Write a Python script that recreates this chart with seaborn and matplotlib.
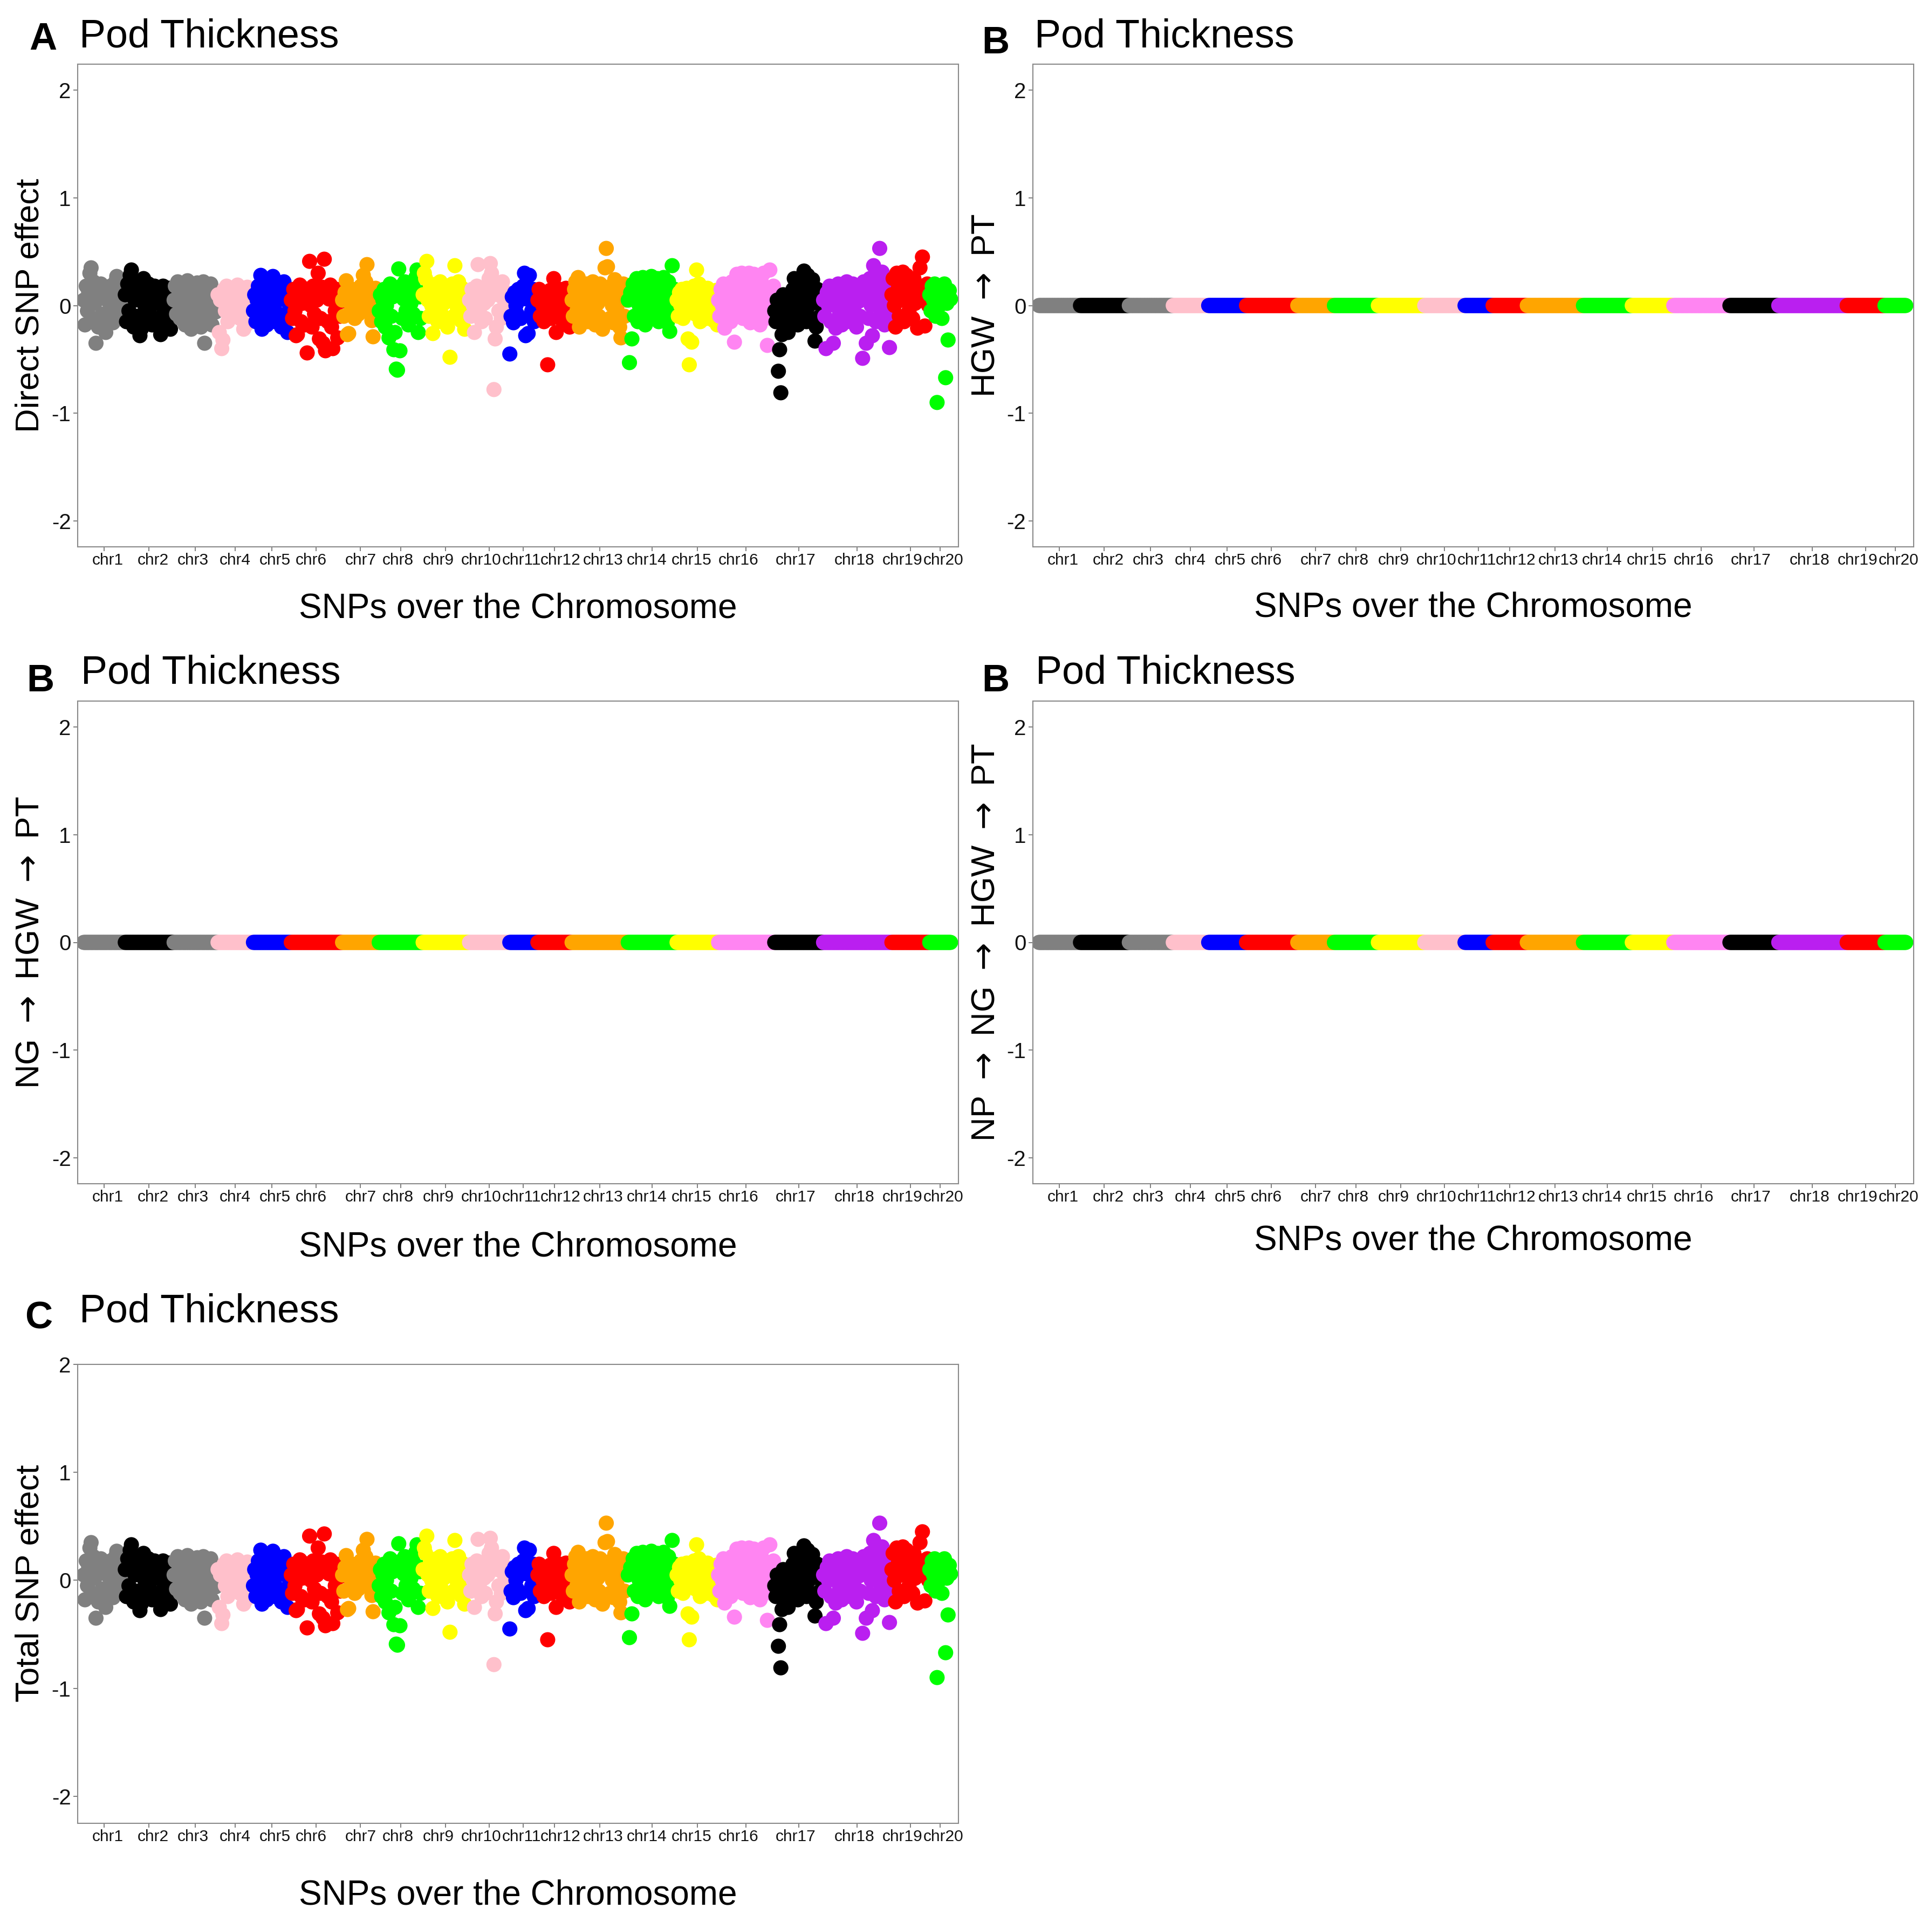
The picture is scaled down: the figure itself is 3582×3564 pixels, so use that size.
import matplotlib
matplotlib.use('Agg')
import matplotlib.pyplot as plt
import pandas as pd
import seaborn as sns

# chromosomes and the colour each one gets in every panel
chromosomes = ['chr1', 'chr2', 'chr3', 'chr4', 'chr5', 'chr6', 'chr7', 'chr8', 'chr9', 'chr10',
               'chr11', 'chr12', 'chr13', 'chr14', 'chr15', 'chr16', 'chr17', 'chr18', 'chr19', 'chr20']
chr_colors = ['#808080', '#000000', '#808080', '#FFC0CB', '#0000FF', '#FF0000', '#FFA500', '#00FF00',
              '#FFFF00', '#FFC0CB', '#0000FF', '#FF0000', '#FFA500', '#00FF00', '#FFFF00', '#FF85F2',
              '#000000', '#BA1FF0', '#FF0000', '#00FF00']

# direct SNP effect on pod thickness, SNPs in map order
direct_chr1 = [0.05, -0.18, 0.18, -0.05, 0.12, 0.30, 0.35, -0.12, 0.22, 0.02, -0.35, 0.15, -0.20, 0.08,
               0.20, -0.08, 0.10, -0.15, -0.25, 0.14, 0.04, -0.10, 0.18, 0.00, -0.16, 0.11, 0.22, 0.27,
               -0.06, 0.16, -0.12, 0.06, -0.02, 0.12]
direct_chr2 = [0.10, -0.15, 0.20, -0.05, 0.28, 0.33, 0.15, -0.20, 0.05, 0.22, -0.10, 0.12, -0.28, -0.22,
               0.18, 0.25, 0.00, -0.15, 0.10, 0.20, -0.08, 0.14, -0.18, 0.06, 0.18, -0.12, 0.02, 0.15,
               -0.20, -0.27, 0.08, 0.18, -0.05, 0.12, -0.15, 0.05, 0.16, -0.22, 0.00, 0.10]
direct_chr3 = [0.05, 0.18, -0.08, 0.22, 0.10, -0.12, 0.15, -0.02, 0.20, -0.18, 0.08, 0.23, -0.10, 0.12,
               -0.22, 0.02, 0.18, -0.15, 0.06, 0.21, -0.05, 0.14, -0.20, 0.10, 0.22, -0.35, 0.00, 0.16,
               -0.12, 0.08, 0.20, -0.18, 0.04, 0.12, -0.06, 0.10]
direct_chr4 = [0.10, -0.25, 0.05, -0.40, -0.32, 0.15, -0.05, 0.18, -0.15, 0.08, 0.00, 0.16, -0.10, 0.12,
               0.04, -0.08, 0.19, 0.02, -0.12, 0.14, 0.06, -0.22, 0.10, -0.18, 0.17, -0.04, 0.08, 0.12,
               -0.02]
direct_chr5 = [-0.05, 0.10, -0.15, 0.05, 0.18, -0.10, 0.28, -0.22, 0.12, 0.00, 0.16, -0.18, 0.08, -0.05,
               0.20, -0.12, 0.27, 0.10, -0.15, 0.04, 0.18, -0.08, 0.14, -0.20, 0.06, 0.22, 0.12, -0.10,
               -0.25, 0.02, 0.10]
direct_chr6 = [0.05, -0.12, 0.15, -0.05, -0.28, -0.27, 0.10, 0.19, -0.15, 0.02, 0.16, -0.18, 0.08, -0.44,
               0.12, 0.41, 0.00, -0.20, 0.18, -0.08, 0.14, 0.05, 0.30, -0.31, -0.12, 0.17, -0.35, 0.43,
               -0.42, 0.10, -0.15, 0.06, 0.19, -0.20, -0.40, 0.12, -0.05, 0.15, -0.30, 0.08, -0.10, 0.04]
direct_chr7 = [0.05, -0.10, 0.12, 0.23, -0.27, -0.26, 0.08, -0.05, 0.15, 0.00, -0.12, 0.10, 0.04, -0.08,
               0.14, 0.18, -0.02, 0.28, 0.10, 0.22, 0.38, -0.06, 0.12, 0.02, -0.14, -0.29, 0.08, 0.16,
               -0.04, 0.06]
direct_chr8 = [-0.05, 0.10, -0.15, 0.05, 0.15, -0.20, 0.00, 0.12, -0.30, 0.20, -0.10, 0.08, -0.41, -0.25,
               -0.59, -0.60, 0.34, -0.42, 0.18, -0.12, 0.06, 0.22, -0.05, 0.14, -0.18, 0.10, 0.02, 0.20,
               -0.08, 0.15, 0.26, 0.33, -0.25, 0.08, -0.12, 0.12]
direct_chr9 = [0.10, 0.30, 0.25, 0.41, 0.05, -0.10, 0.18, 0.00, -0.26, 0.12, -0.05, 0.20, -0.15, 0.08,
               0.22, -0.08, 0.15, 0.02, -0.12, 0.18, -0.20, 0.10, -0.48, 0.05, 0.20, -0.10, 0.37, 0.14,
               -0.02, 0.22, 0.08, -0.14, 0.16, 0.04, -0.22, 0.12, -0.06, 0.10]
direct_chr10 = [0.05, -0.10, 0.15, 0.00, -0.25, 0.10, 0.18, 0.38, -0.05, 0.12, -0.15, 0.08, 0.02, -0.12,
                0.16, 0.05, 0.25, 0.39, 0.30, 0.20, -0.78, -0.31, -0.20, 0.10, -0.05, 0.14, -0.12, 0.22,
                0.06, -0.08, 0.12, 0.00, 0.08]
direct_chr11 = [-0.45, -0.10, 0.08, -0.16, 0.12, 0.00, -0.08, 0.15, 0.05, -0.12, 0.10, 0.18, 0.30, -0.28,
                0.06, -0.26, 0.28, 0.12, -0.05, 0.15, -0.15, 0.08, 0.02]
direct_chr12 = [0.05, 0.15, -0.10, 0.10, 0.00, -0.15, 0.12, 0.06, -0.55, -0.05, 0.14, -0.12, 0.08, 0.25,
                0.02, -0.25, 0.12, -0.08, 0.15, 0.04, -0.14, 0.10, 0.00, 0.16, -0.06, 0.08, -0.20, 0.10]
direct_chr13 = [0.05, -0.10, 0.15, 0.22, -0.05, 0.26, -0.20, 0.10, 0.00, 0.18, -0.12, 0.08, 0.20, -0.15,
                0.12, 0.04, -0.08, 0.22, 0.10, -0.18, 0.15, 0.02, -0.10, 0.20, 0.08, -0.22, 0.12, 0.35,
                0.53, 0.36, 0.06, -0.12, 0.18, 0.00, -0.16, 0.24, 0.10, -0.05, 0.15, -0.20, -0.30, 0.12,
                0.20, -0.10, 0.05, 0.15]
direct_chr14 = [0.05, -0.53, 0.12, -0.31, 0.20, -0.10, 0.08, 0.25, -0.15, 0.00, 0.18, -0.05, 0.26, 0.10,
                -0.18, 0.15, 0.22, -0.08, 0.05, 0.27, -0.12, 0.12, 0.20, -0.02, 0.25, -0.15, 0.08, 0.18,
                -0.10, 0.26, 0.02, 0.14, -0.16, 0.22, -0.24, 0.10, 0.37, -0.05, 0.15, 0.04]
direct_chr15 = [0.05, -0.10, 0.12, 0.00, 0.15, -0.12, 0.08, -0.05, 0.16, -0.31, -0.55, 0.10, -0.34, 0.04,
                0.18, -0.08, 0.33, 0.12, 0.20, -0.15, 0.06, 0.14, -0.02, 0.10, -0.12, 0.16, 0.02, -0.06,
                0.12, 0.08, -0.14, 0.05, 0.14, -0.18]
direct_chr16 = [0.05, -0.10, 0.15, 0.00, 0.20, -0.21, 0.10, -0.05, 0.18, 0.08, -0.15, 0.22, 0.02, -0.34,
                0.12, 0.29, -0.08, 0.20, 0.05, 0.30, -0.12, 0.15, 0.28, -0.02, 0.10, 0.30, -0.16, 0.20,
                0.06, 0.29, -0.10, 0.14, 0.25, 0.00, -0.18, 0.22, 0.08, 0.30, -0.06, 0.15, -0.37, 0.12,
                0.33, -0.12, 0.05, 0.18]
direct_chr17 = [-0.05, -0.15, 0.05, -0.61, -0.41, -0.81, -0.27, 0.10, -0.20, -0.08, 0.02, -0.25, -0.12,
                0.08, -0.15, 0.15, 0.25, -0.05, 0.12, -0.18, 0.20, 0.05, -0.10, 0.22, 0.32, 0.10, -0.15,
                0.28, 0.00, 0.18, -0.12, 0.24, 0.08, -0.33, -0.20, 0.15, 0.02, -0.10, 0.12, 0.05]
direct_chr18 = [0.05, -0.10, -0.40, 0.12, 0.00, 0.18, -0.15, 0.08, -0.35, 0.15, -0.21, 0.02, 0.20, -0.08,
                0.10, -0.18, 0.14, 0.05, -0.12, 0.22, 0.00, 0.16, -0.15, 0.08, 0.20, -0.05, 0.12, -0.20,
                0.18, 0.04, -0.10, 0.15, -0.49, 0.22, 0.06, -0.35, 0.14, -0.12, 0.25, 0.00, -0.28, 0.37,
                0.10, -0.15, 0.20, 0.05, 0.53, -0.08, 0.31, 0.12, -0.18, 0.24, 0.02, -0.10, -0.39, 0.15]
direct_chr19 = [0.10, 0.25, 0.00, -0.20, 0.30, 0.15, -0.10, 0.22, 0.05, 0.31, -0.15, 0.18, 0.28, 0.08,
                -0.05, 0.20, 0.12, -0.12, 0.25, 0.02, 0.15, -0.21, 0.10, 0.35, 0.18, 0.45, 0.05, -0.19,
                0.12, 0.20, 0.00]
direct_chr20 = [0.10, -0.05, 0.18, 0.05, 0.20, -0.10, -0.90, 0.12, 0.00, 0.16, -0.12, 0.08, 0.20, -0.67,
                0.02, -0.32, 0.14, 0.06]

direct_effects = [direct_chr1, direct_chr2, direct_chr3, direct_chr4, direct_chr5, direct_chr6,
                  direct_chr7, direct_chr8, direct_chr9, direct_chr10, direct_chr11, direct_chr12,
                  direct_chr13, direct_chr14, direct_chr15, direct_chr16, direct_chr17, direct_chr18,
                  direct_chr19, direct_chr20]

# mediated (indirect) paths per chromosome: every SNP reads as 0 at this scale
hgw_pt_by_chr = [0.00, 0.00, 0.00, 0.00, 0.00, 0.00, 0.00, 0.00, 0.00, 0.00,
                 0.00, 0.00, 0.00, 0.00, 0.00, 0.00, 0.00, 0.00, 0.00, 0.00]
ng_hgw_pt_by_chr = [0.00, 0.00, 0.00, 0.00, 0.00, 0.00, 0.00, 0.00, 0.00, 0.00,
                    0.00, 0.00, 0.00, 0.00, 0.00, 0.00, 0.00, 0.00, 0.00, 0.00]
np_ng_hgw_pt_by_chr = [0.00, 0.00, 0.00, 0.00, 0.00, 0.00, 0.00, 0.00, 0.00, 0.00,
                       0.00, 0.00, 0.00, 0.00, 0.00, 0.00, 0.00, 0.00, 0.00, 0.00]

y_ticks = [-2, -1, 0, 1, 2]

# long table, one row per SNP, x = SNP index along the genome
rows = []
snp = 0
for i, chrom in enumerate(chromosomes):
    for d in direct_effects[i]:
        rows.append((snp, chrom, d, hgw_pt_by_chr[i], ng_hgw_pt_by_chr[i], np_ng_hgw_pt_by_chr[i]))
        snp += 1
df = pd.DataFrame(rows, columns=['snp', 'chrom', 'direct', 'hgw_pt', 'ng_hgw_pt', 'np_ng_hgw_pt'])
df['total'] = df['direct'] + df['hgw_pt'] + df['ng_hgw_pt'] + df['np_ng_hgw_pt']

spans = df.groupby('chrom', sort=False)['snp'].agg(['min', 'max'])
tick_pos = ((spans['min'] + spans['max']) / 2).loc[chromosomes].values

# the chr labels are spread out a little so neighbours don't collide (layout only, in SNP units)
label_shift = [3.2, 3.4, -1.9, 0.0, 2.7, -4.2, 0.5, -2.0, -5.9, -6.5,
               -1.3, 5.0, 2.9, -4.3, -4.6, -6.2, -2.3, -2.2, -6.4, 2.7]
label_pos = tick_pos + label_shift

# ---- style ----
sns.set_theme(style='white')
plt.rcParams['font.family'] = ['Liberation Sans', 'DejaVu Sans']
plt.rcParams['mathtext.fontset'] = 'dejavusans'
plt.rcParams['axes.unicode_minus'] = False
plt.rcParams['text.color'] = 'black'
plt.rcParams['axes.labelcolor'] = 'black'

W, H = 3582, 3564
fig = plt.figure(figsize=(W / 100, H / 100), dpi=100)
fig.patch.set_facecolor('white')

def fx(px):
    return px / W

def fy(py):
    return 1 - py / H

arrow = r' ${\rightarrow}$ '

# (left, top, right, bottom) of each panel in pixels
panels = [
    dict(box=(144, 119, 1777, 1014), col='direct', ylabel='Direct SNP effect', letter='A',
         letter_at=(54, 92), title_at=(147, 88), xlab_y=1128, ylab_y=0.5, ylim=(-2.24, 2.24)),
    dict(box=(1915, 119, 3548, 1014), col='hgw_pt', ylabel='HGW' + arrow + 'PT', letter='B',
         letter_at=(1820, 99), title_at=(1918, 88), xlab_y=1126, ylab_y=0.5, ylim=(-2.24, 2.24)),
    dict(box=(144, 1300, 1777, 2195), col='ng_hgw_pt', ylabel='NG' + arrow + 'HGW' + arrow + 'PT',
         letter='B', letter_at=(49, 1282), title_at=(150, 1268), xlab_y=2312, ylab_y=0.5,
         ylim=(-2.24, 2.24)),
    dict(box=(1915, 1300, 3548, 2195), col='np_ng_hgw_pt',
         ylabel='NP' + arrow + 'NG' + arrow + 'HGW' + arrow + 'PT',
         letter='B', letter_at=(1820, 1282), title_at=(1920, 1268), xlab_y=2300, ylab_y=0.5,
         ylim=(-2.24, 2.24)),
    dict(box=(144, 2530, 1777, 3381), col='total', ylabel='Total SNP effect', letter='C',
         letter_at=(46, 2463), title_at=(147, 2452), xlab_y=3514, ylab_y=0.523, ylim=(-2.25, 2.0)),
]

n_snp = len(df)
for p in panels:
    l, t, r, b = p['box']
    ax = fig.add_axes([fx(l), fy(b), fx(r) - fx(l), (b - t) / H])
    sns.scatterplot(data=df, x='snp', y=p['col'], hue='chrom', hue_order=chromosomes,
                    palette=chr_colors, s=410, linewidth=0, alpha=1, legend=False, ax=ax)
    ax.set_xlim(-5, n_snp + 5.5)
    ax.set_ylim(*p['ylim'])
    # tick marks at chromosome centres, names on (unmarked) minor ticks
    ax.xaxis.remove_overlapping_locs = False
    ax.set_xticks(tick_pos)
    ax.set_xticklabels([''] * len(tick_pos))
    ax.set_xticks(label_pos, minor=True)
    ax.set_xticklabels(chromosomes, minor=True, fontsize=21.5, color='#111111')
    ax.set_yticks(y_ticks)
    ax.set_yticklabels([str(v) for v in y_ticks], fontsize=29, color='#111111')
    ax.tick_params(axis='both', which='major', direction='out', length=6, width=1.4,
                   color='#7f7f7f', bottom=True, left=True)
    ax.tick_params(axis='x', which='minor', length=0, pad=8, bottom=True)
    ax.tick_params(axis='y', which='minor', left=False)
    ax.tick_params(axis='y', pad=3)
    for sp in ax.spines.values():
        sp.set_visible(True)
        sp.set_color('#8a8a8a')
        sp.set_linewidth(1.5)
    ax.set_facecolor('white')
    ax.grid(False)

    ax.set_xlabel('SNPs over the Chromosome', fontsize=46, va='center')
    ax.xaxis.set_label_coords(0.5, -(p['xlab_y'] - b) / (b - t))
    lab_x = 56 if l < 1000 else 1828
    ax.set_ylabel(p['ylabel'], fontsize=44.5, va='center')
    ax.yaxis.set_label_coords((lab_x - l) / (r - l), p['ylab_y'])

    fig.text(fx(p['title_at'][0]), fy(p['title_at'][1]), 'Pod Thickness', fontsize=53,
             ha='left', va='baseline')
    fig.text(fx(p['letter_at'][0]), fy(p['letter_at'][1]), p['letter'], fontsize=51,
             fontweight='bold', ha='left', va='baseline')

fig.savefig('out.png', dpi=100, facecolor='white')
